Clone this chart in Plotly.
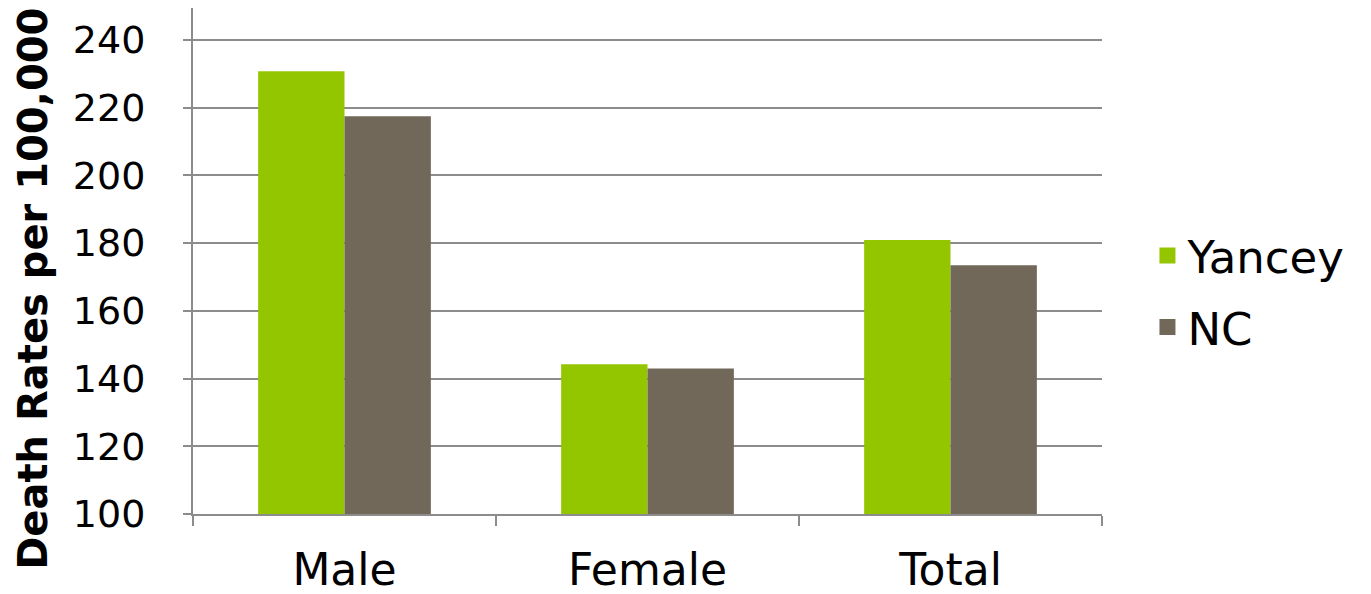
import plotly.graph_objects as go

categories = ["Male", "Female", "Total"]
yancey = [230.8, 144.2, 180.9]
nc = [217.5, 143.0, 173.5]
series_names = ["Yancey", "NC"]
series_colors = ["#94C600", "#71685A"]
y_ticks = [100, 120, 140, 160, 180, 200, 220, 240]
y_title = "Death Rates per 100,000"

FONT = "DejaVu Sans"
GRID = "#8c8c8c"

fig = go.Figure()
for name, vals, col in zip(series_names, [yancey, nc], series_colors):
    fig.add_trace(go.Bar(x=categories, y=vals, name=name, showlegend=False,
                         marker=dict(color=col, line=dict(width=0))))
# legend-only entries with larger square swatches
for name, col in zip(series_names, series_colors):
    fig.add_trace(go.Scatter(x=[None], y=[None], mode="markers", name=name,
                             legendgroup=name,
                             marker=dict(symbol="square", size=16, color=col)))

fig.add_annotation(text="<b>" + y_title + "</b>", textangle=-90,
                   xref="paper", yref="paper", x=-0.176, y=0.445,
                   xanchor="center", yanchor="middle", showarrow=False,
                   font=dict(size=40, family=FONT, color="black"))

fig.update_layout(
    width=1371, height=594,
    margin=dict(l=185, r=277, t=0, b=88),
    paper_bgcolor="white", plot_bgcolor="white",
    barmode="group", bargap=0.43, bargroupgap=0,
    font=dict(family=FONT, color="black"),
    showlegend=True,
    legend=dict(x=1.05, y=0.44, xanchor="left", yanchor="middle",
                font=dict(size=45, family=FONT), itemsizing="trace",
                tracegroupgap=10, bgcolor="rgba(0,0,0,0)"),
    xaxis=dict(showline=True, linecolor=GRID, linewidth=2,
               ticks="outside", tickson="boundaries", ticklen=10,
               tickcolor=GRID, tickwidth=2, ticklabelstandoff=16,
               tickfont=dict(size=44, family=FONT), showgrid=False),
    yaxis=dict(range=[100, 249.45], tickvals=y_ticks, showline=True,
               linecolor=GRID, linewidth=2, ticks="outside", ticklen=8,
               tickcolor=GRID, tickwidth=2, showgrid=True, gridcolor=GRID,
               gridwidth=2, zeroline=False, ticklabelstandoff=30,
               tickfont=dict(size=38, family=FONT)),
)

fig.write_html("out.html")
